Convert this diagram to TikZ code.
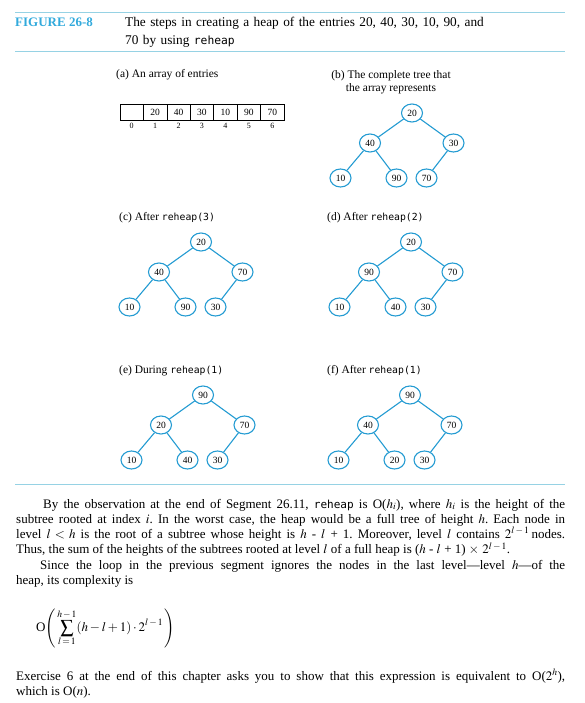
\documentclass[tikz,border=0pt]{standalone}
\usepackage{mathptmx}
\usepackage{fontspec}
\setmainfont{Liberation Serif}
\setmonofont[Scale=0.85]{DejaVu Sans Mono}
\usetikzlibrary{positioning,shapes.geometric}
\definecolor{treecol}{RGB}{35,155,210}
\definecolor{figcol}{RGB}{50,170,220}
\definecolor{rulecol}{RGB}{150,210,228}
\tikzset{
  hnode/.style={draw=treecol,line width=1.1pt,ellipse,fill=white,minimum width=21pt,
    minimum height=18pt,inner sep=0pt,font=\fontsize{9.5}{9.5}\selectfont},
  hedge/.style={treecol,line width=1.1pt},
  cell/.style={draw,line width=0.6pt,minimum width=23.4pt,minimum height=16pt,
    inner sep=0pt,font=\fontsize{9.5}{10}\selectfont},
  idx/.style={font=\fontsize{8}{9}\selectfont,inner sep=1pt},
  sublbl/.style={font=\fontsize{11.5}{13}\selectfont,inner sep=0pt},
  bodytext/.style={font=\fontsize{13}{15.3}\selectfont\frenchspacing,text width=549pt,
    align=justify,inner sep=0pt,anchor=base west},
  hrule/.style={rulecol,line width=0.9pt}
}

\begin{document}
\begin{tikzpicture}[x=1pt,y=-1pt]
\useasboundingbox (0,0) rectangle (584,703);
% header
\draw[hrule] (15,12) -- (565,12);
\draw[hrule] (15,51) -- (565,51);
\node[anchor=base west,inner sep=0pt,text=figcol,font=\fontsize{13}{15}\selectfont\bfseries] (fig) at (15,27) {FIGURE 26-8};
\node[anchor=base west,inner sep=0pt,text width=440pt,align=left,font=\fontsize{13.3}{18}\selectfont] (cap) at (125,27)
  {The steps in creating a heap of the entries 20, 40, 30, 10, 90, and\\70 by using \texttt{reheap}};
% (a) the array
\node[sublbl,anchor=base west] (la) at (116,78) {(a) An array of entries};
\foreach \v [count=\i from 0] in {{},20,40,30,10,90,70} {
  \node[cell] (a\i) at (131.7+23.43*\i,112) {\v};
  \node[idx,below=2pt of a\i] (n\i) {\i};
}
% sub-labels of the trees
\node[sublbl,align=center] (lb) at (391,82) {(b) The complete tree that\\the array represents};
\node[sublbl,anchor=base west] (lc) at (119,220) {(c) After \texttt{reheap(3)}};
\node[sublbl,anchor=base west] (ld) at (327,220) {(d) After \texttt{reheap(2)}};
\node[sublbl,anchor=base west] (le) at (119,373) {(e) During \texttt{reheap(1)}};
\node[sublbl,anchor=base west] (lf) at (327,373) {(f) After \texttt{reheap(1)}};
% the five trees
\foreach \tr/\cx/\cy/\va/\vb/\vc/\vd/\ve/\vf in
  {b/412/113/20/40/30/10/90/70, c/201/242/20/40/70/10/90/30, d/411/242/20/90/70/10/40/30,
   e/203/395/90/20/70/10/40/30, f/410/395/90/40/70/10/20/30} {
  \node[hnode] (\tr1) at (\cx,\cy) {\va};
  \node[hnode] (\tr2) at (\cx-42,\cy+30) {\vb};
  \node[hnode] (\tr3) at (\cx+41.5,\cy+30) {\vc};
  \node[hnode] (\tr4) at (\cx-71.5,\cy+65) {\vd};
  \node[hnode] (\tr5) at (\cx-15.5,\cy+65) {\ve};
  \node[hnode] (\tr6) at (\cx+14.5,\cy+65) {\vf};
  \draw[hedge] (\tr1) -- (\tr2);
  \draw[hedge] (\tr1) -- (\tr3);
  \draw[hedge] (\tr2) -- (\tr4);
  \draw[hedge] (\tr2) -- (\tr5);
  \draw[hedge] (\tr3) -- (\tr6);
}
% running text
\draw[hrule] (15,484) -- (565,484);
\node[bodytext] (par) at (16,508) {\hspace*{27pt}By the observation at the end of Segment 26.11, \texttt{reheap} is O($h_i$), where $h_i$ is the height of the\linebreak
subtree rooted at index $i$. In the worst case, the heap would be a full tree of height $h$. Each node in\linebreak
level $l<h$ is the root of a subtree whose height is $h$ - $l$ + 1. Moreover, level $l$ contains $2^{l\,-\,1}$\,nodes.\linebreak
Thus, the sum of the heights of the subtrees rooted at level $l$ of a full heap is ($h$ - $l$ + 1) $\times$ $2^{l\,-\,1}$.\par
\hspace*{24pt}Since the loop in the previous segment ignores the nodes in the last level---level $h$---of the\linebreak
heap, its complexity is};
\node[anchor=west,inner sep=0pt,font=\fontsize{13}{15}\selectfont] (sum) at (36,628)
  {O$\left(\,\displaystyle\sum_{l\,=\,1}^{h\,-\,1}(h-l+1)\cdot 2^{l\,-\,1}\,\right)$};
\node[bodytext] (ex) at (16,680) {Exercise 6 at the end of this chapter asks you to show that this expression is equivalent to O($2^h$),\linebreak
which is O($n$).};
\end{tikzpicture}
\end{document}
